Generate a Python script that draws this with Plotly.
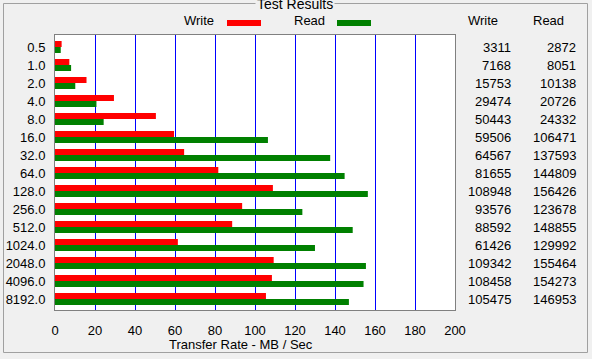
import plotly.graph_objects as go

block_sizes = ["0.5", "1.0", "2.0", "4.0", "8.0", "16.0", "32.0", "64.0", "128.0",
               "256.0", "512.0", "1024.0", "2048.0", "4096.0", "8192.0"]
write_kb = [3311, 7168, 15753, 29474, 50443, 59506, 64567, 81655, 108948,
            93576, 88592, 61426, 109342, 108458, 105475]
read_kb = [2872, 8051, 10138, 20726, 24332, 106471, 137593, 144809, 156426,
           123678, 148855, 129992, 155464, 154273, 146953]
x_ticks = [0, 20, 40, 60, 80, 100, 120, 140, 160, 180, 200]

write_mb = [v / 1000 for v in write_kb]
read_mb = [v / 1000 for v in read_kb]

W, H = 592, 359
L, R, T, B = 55, 455, 35, 310
FONT = "Liberation Sans"
FS = 13


def px(x):
    return (x - L) / (R - L)


def py(y):
    return (B - y) / (B - T)


fig = go.Figure()
fig.add_trace(go.Bar(y=block_sizes, x=write_mb, orientation="h", name="Write",
                     marker=dict(color="#ff0000", line=dict(width=0))))
fig.add_trace(go.Bar(y=block_sizes, x=read_mb, orientation="h", name="Read",
                     marker=dict(color="#008000", line=dict(width=0))))

shapes = []
# group box frame
shapes.append(dict(type="rect", xref="paper", yref="paper",
                   x0=px(3.5), x1=px(587.5), y0=py(352.5), y1=py(3.5),
                   line=dict(color="#a0a0a0", width=1), layer="below"))
# legend swatches
shapes.append(dict(type="rect", xref="paper", yref="paper",
                   x0=px(227), x1=px(261), y0=py(26), y1=py(20),
                   fillcolor="#ff0000", line=dict(width=0)))
shapes.append(dict(type="rect", xref="paper", yref="paper",
                   x0=px(337), x1=px(371), y0=py(26), y1=py(20),
                   fillcolor="#008000", line=dict(width=0)))

ann = []
ann.append(dict(text="Test Results", xref="paper", yref="paper", x=px(295), y=py(4),
                showarrow=False, bgcolor="#f0f0f0", font=dict(size=FS + 1),
                xanchor="center", yanchor="middle", borderpad=1))
ann.append(dict(text="Write", xref="paper", yref="paper", x=px(216), y=py(21),
                showarrow=False, xanchor="right", yanchor="middle", font=dict(size=FS)))
ann.append(dict(text="Read", xref="paper", yref="paper", x=px(327), y=py(21),
                showarrow=False, xanchor="right", yanchor="middle", font=dict(size=FS)))
ann.append(dict(text="Write", xref="paper", yref="paper", x=px(483), y=py(21),
                showarrow=False, xanchor="center", yanchor="middle", font=dict(size=FS)))
ann.append(dict(text="Read", xref="paper", yref="paper", x=px(548), y=py(21),
                showarrow=False, xanchor="center", yanchor="middle", font=dict(size=FS)))
ann.append(dict(text="Transfer Rate - MB / Sec", xref="paper", yref="paper",
                x=px(241), y=py(344), showarrow=False, xanchor="center",
                yanchor="middle", font=dict(size=FS)))
for i, (w, r) in enumerate(zip(write_kb, read_kb)):
    ann.append(dict(text=str(w), xref="paper", yref="y", x=px(513), y=i,
                    showarrow=False, xanchor="right", yanchor="middle", font=dict(size=FS)))
    ann.append(dict(text=str(r), xref="paper", yref="y", x=px(578), y=i,
                    showarrow=False, xanchor="right", yanchor="middle", font=dict(size=FS)))

fig.update_layout(
    width=W, height=H,
    margin=dict(l=L, r=W - R, t=T, b=H - B, pad=0, autoexpand=False),
    paper_bgcolor="#f0f0f0", plot_bgcolor="#ffffff",
    font=dict(family=FONT, size=FS, color="#000000"),
    barmode="group", bargap=0.333, bargroupgap=0,
    showlegend=False,
    shapes=shapes, annotations=ann,
    xaxis=dict(range=[0, 200], tickvals=x_ticks, ticktext=[str(t) for t in x_ticks],
               showgrid=True, gridcolor="#0000ff", gridwidth=1, zeroline=False,
               showline=True, linecolor="#808080", linewidth=1, mirror=True,
               ticks="", ticklabelstandoff=8, fixedrange=True, automargin=False),
    yaxis=dict(type="category", categoryorder="array", categoryarray=block_sizes,
               range=[14.61, -0.667], showgrid=False, zeroline=False,
               showline=True, linecolor="#808080", linewidth=1, mirror=True,
               ticks="", ticklabelstandoff=6, fixedrange=True, automargin=False),
)

fig.write_html("out.html", config={"displayModeBar": False},
               post_script="document.body.style.margin='0';")
